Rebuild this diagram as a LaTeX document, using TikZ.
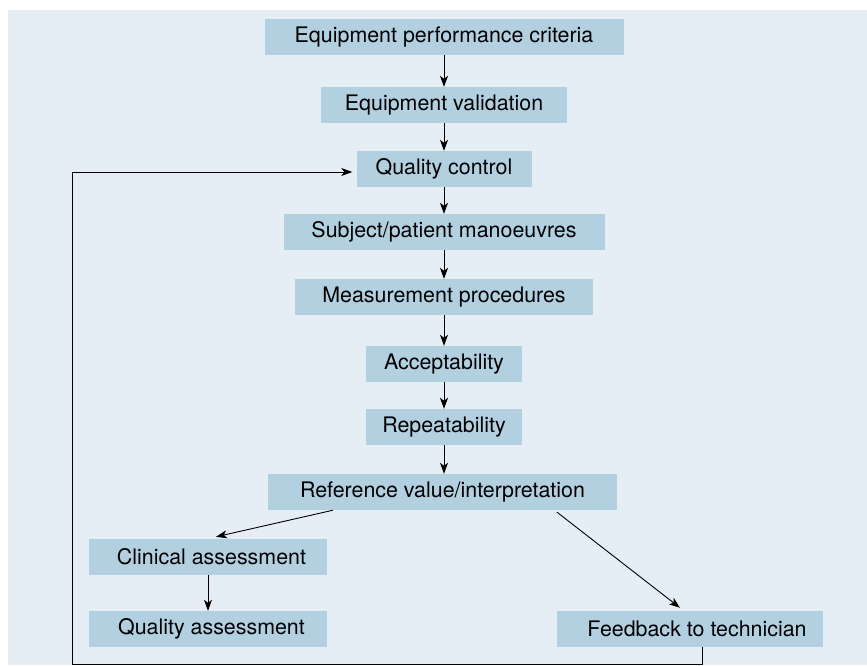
\documentclass[tikz,border=0pt]{standalone}
\usepackage{fontspec}
\setmainfont{TeX Gyre Heros}
\usepackage{xcolor}
\usetikzlibrary{arrows.meta}
\definecolor{panelbg}{HTML}{E5EDF5}
\definecolor{boxfill}{HTML}{B3D0E1}

\begin{document}
\begin{tikzpicture}[x=1pt, y=-1pt,
  every node/.style={font=\fontsize{21.4}{25}\selectfont},
  stage/.style={rectangle, fill=boxfill, inner sep=0pt, minimum height=36pt},
  link/.style={line width=0.9pt, -{Stealth[length=11pt,width=8pt,inset=3pt]}}]
\useasboundingbox (0,0) rectangle (867,665);
\fill[white] (0,0) rectangle (867,665);
\fill[panelbg] (8,10) rectangle (867,665);
% Main chain
\node[stage, minimum width=359pt] (crit) at (444,37) {Equipment performance criteria};
\node[stage, minimum width=246pt] (valid) at (444,105) {Equipment validation};
\node[stage, minimum width=175pt] (qc) at (444,169) {Quality control};
\node[stage, minimum width=321pt] (manv) at (444,232) {Subject/patient manoeuvres};
\node[stage, minimum width=298pt] (meas) at (444,297) {Measurement procedures};
\node[stage, minimum width=156pt] (accept) at (444,364) {Acceptability};
\node[stage, minimum width=156pt] (repeat) at (444,427) {Repeatability};
\node[stage, minimum width=349pt] (refval) at (442.5,492) {Reference value/interpretation};
% Outcomes
\node[stage, minimum width=238pt] (clin) at (208,557) {\hspace*{7pt}Clinical assessment};
\node[stage, minimum width=238pt] (qualas) at (208,629) {\hspace*{7pt}Quality assessment};
\node[stage, minimum width=266pt] (feedb) at (690,629) {\hspace*{14pt}Feedback to technician};
\coordinate (loopcorner) at (72,664);
\draw[link] (crit.south) -- (valid.north);
\draw[link] (valid.south) -- (qc.north);
\draw[link] (qc.south) -- (manv.north);
\draw[link] (manv.south) -- (meas.north);
\draw[link] (meas.south) -- (accept.north);
\draw[link] (accept.south) -- (repeat.north);
\draw[link] (repeat.south) -- (repeat.south |- refval.north);
\draw[link] ([xshift=-109.5pt]refval.south) -- ([xshift=8pt, yshift=2pt]clin.north);
\draw[link] ([xshift=114.5pt, yshift=-2pt]refval.south) -- ([xshift=-10pt, yshift=3pt]feedb.north);
\draw[link] (clin.south) -- (qualas.north);
\draw[link] ([xshift=12pt]feedb.south) |- (loopcorner) |- ([xshift=-4pt, yshift=-3pt]qc.west);
\end{tikzpicture}
\end{document}
